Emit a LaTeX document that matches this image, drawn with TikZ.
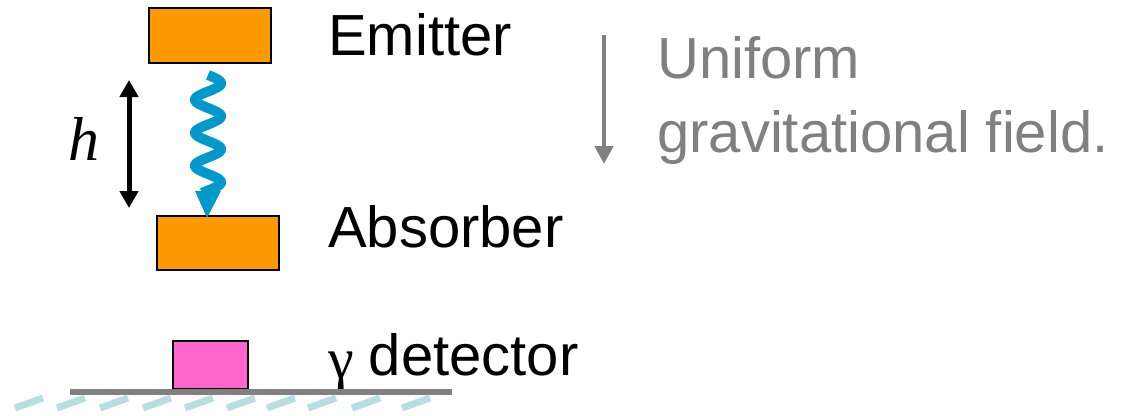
\documentclass[tikz,border=0pt]{standalone}
\usepackage{fontspec}
\setmainfont{Liberation Sans}
\newfontfamily\seriffont{Liberation Serif}
\usetikzlibrary{arrows.meta}
\definecolor{boxorange}{HTML}{FF9900}
\definecolor{wavecol}{HTML}{0099CC}
\definecolor{boxpink}{HTML}{FF66CC}
\definecolor{fieldgray}{HTML}{808080}
\definecolor{hatchcol}{HTML}{B8DEE2}
\begin{document}
\begin{tikzpicture}[x=1pt,y=-1pt,
  blockbox/.style={draw=black, line width=1.5pt, fill=boxorange, inner sep=0pt, anchor=north west},
  txt/.style={anchor=base west, inner sep=0pt, font=\fontsize{58}{66}\selectfont},
  graytxt/.style={txt, text=fieldgray},
  dblarrow/.style={line width=5pt, {Triangle[length=17pt,width=18pt]}-{Triangle[length=17pt,width=18pt]}},
  fieldarrow/.style={draw=fieldgray, line width=4.5pt, -{Triangle[length=18pt,width=18pt]}},
  wave/.style={draw=wavecol, line width=10pt},
  ground/.style={draw=fieldgray, line width=6pt},
  hatch/.style={draw=hatchcol, line width=7pt}
]
\useasboundingbox (0,0) rectangle (1121,415);

% boxes
\node[blockbox, minimum width=122pt, minimum height=55pt] (emitter) at (148,7) {};
\node[blockbox, minimum width=122pt, minimum height=54pt] (absorber) at (156,215) {};
\node[blockbox, fill=boxpink, minimum width=75pt, minimum height=48pt] (detector) at (172,340) {};

% labels
\node[txt] (emittertxt) at (328,55) {Emitter};
\node[txt] (absorbertxt) at (328,247) {Absorber};
\node[txt] (detectortxt) at (328,375) {\raisebox{-3pt}{\seriffont\fontsize{58}{66}\selectfont γ}\hspace{15pt}detector};
\node[graytxt] (uniform) at (657,78) {Uniform};
\node[graytxt] (gravfield) at (657,152) {gravitational field.};
\node[anchor=base west, inner sep=0pt, font=\seriffont\itshape\fontsize{62}{70}\selectfont] (hlabel) at (68,160) {h};

% height arrow
\coordinate (htop) at (129,80);
\coordinate (hbot) at (129,208);
\draw[dblarrow] (htop) -- (hbot);

% field arrow
\coordinate (ftop) at (604,35);
\coordinate (fbot) at (604,164);
\draw[fieldarrow] (ftop) -- (fbot);

% photon wave
\draw[wave] plot[domain=75:193, samples=120, smooth] ({208+13*sin((\x-75)/33*360)},{\x});
\coordinate (wtip) at (207,218);
\fill[wavecol] (wtip) -- (195,191) -- (221,191) -- cycle;

% ground
\coordinate (gl) at (70,392);
\coordinate (gr) at (452,392);
\draw[ground] (gl) -- (gr);
\foreach \x in {15,57,100,143,185,227,267,308,352,402}
  \draw[hatch] (\x,408) -- ++(28,-10);
\end{tikzpicture}
\end{document}
